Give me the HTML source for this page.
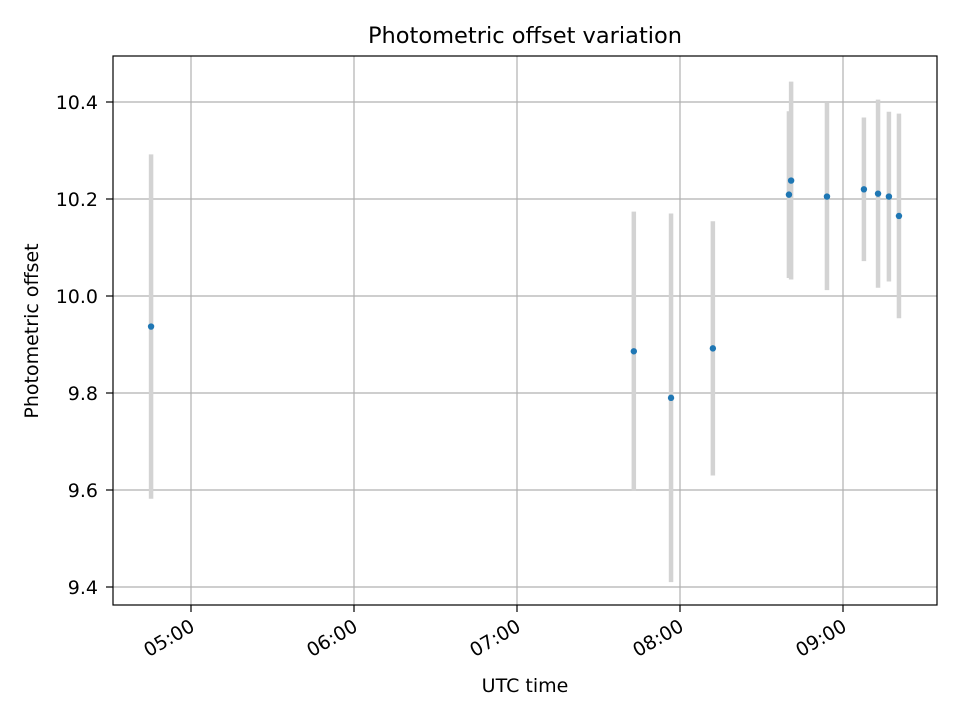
<!DOCTYPE html>
<html><head><meta charset="utf-8"><style>
body{margin:0;background:#fff}
text{font-family:"DejaVu Sans","Liberation Sans",sans-serif}
</style></head><body>
<svg id="chart" width="960" height="720" xmlns="http://www.w3.org/2000/svg">
<rect width="960" height="720" fill="#fff"/>
<g id="grid"></g>
<g id="errs"></g>
<g id="pts"></g>
<rect x="113" y="56" width="824" height="549" fill="none" stroke="#000" stroke-width="1.2"/>
<g id="ticks"></g>
<text x="525" y="43" text-anchor="middle" style="font-size:22.5px">Photometric offset variation</text>
<text x="525" y="692" text-anchor="middle" style="font-size:19px">UTC time</text>
<text transform="translate(38,331) rotate(-90)" text-anchor="middle" style="font-size:19px">Photometric offset</text>
</svg>
<script>
// minutes after 04:00 UTC
const times=[45.3,223.0,236.7,252.1,280.1,280.9,294.1,307.7,312.9,316.9,320.6];
const values=[9.937,9.886,9.79,9.892,10.209,10.238,10.205,10.22,10.211,10.205,10.165];
const errors=[0.355,0.288,0.38,0.262,0.172,0.204,0.193,0.148,0.194,0.175,0.211];
const yTicks=[9.4,9.6,9.8,10.0,10.2,10.4];
const yTickLabels=["9.4","9.6","9.8","10.0","10.2","10.4"];
const xTicks=[60,120,180,240,300];
const xTickLabels=["05:00","06:00","07:00","08:00","09:00"];
const NS="http://www.w3.org/2000/svg";
const xs=m=>191+(m-60)*163/60;
const ys=v=>102+(10.4-v)*485;
function mk(tag,attrs,parent){const e=document.createElementNS(NS,tag);for(const k in attrs)e.setAttribute(k,attrs[k]);parent.appendChild(e);return e;}
const grid=document.getElementById('grid'),ticks=document.getElementById('ticks'),errs=document.getElementById('errs'),pts=document.getElementById('pts');
yTicks.forEach((v,i)=>{const y=ys(v);
 const g=mk('line',{x1:113,x2:937,y1:y,y2:y,stroke:'#b0b0b0','stroke-width':1.2},grid);
 
 mk('line',{x1:106,x2:113,y1:y,y2:y,stroke:'#000','stroke-width':1.2},ticks);
 const t=mk('text',{x:98,y:y+7,'text-anchor':'end',style:'font-size:19px'},ticks);t.textContent=yTickLabels[i];
 });
xTicks.forEach((m,i)=>{const x=xs(m);
 const g=mk('line',{x1:x,x2:x,y1:56,y2:605,stroke:'#b0b0b0','stroke-width':1.2},grid);
 
 mk('line',{x1:x,x2:x,y1:605,y2:612,stroke:'#000','stroke-width':1.2},ticks);
 const t=mk('text',{x:0,y:0,'text-anchor':'end',style:'font-size:19px',transform:`translate(${x+5},${630}) rotate(-30)`},ticks);t.textContent=xTickLabels[i];
 });
times.forEach((m,i)=>{const x=xs(m);
 const e=mk('line',{x1:x,x2:x,y1:ys(values[i]+errors[i]),y2:ys(values[i]-errors[i]),stroke:'#d3d3d3','stroke-width':4.5},errs);
 
 const c=mk('circle',{cx:x,cy:ys(values[i]),r:3.2,fill:'#1f77b4'},pts);
 });
</script>
</body></html>
